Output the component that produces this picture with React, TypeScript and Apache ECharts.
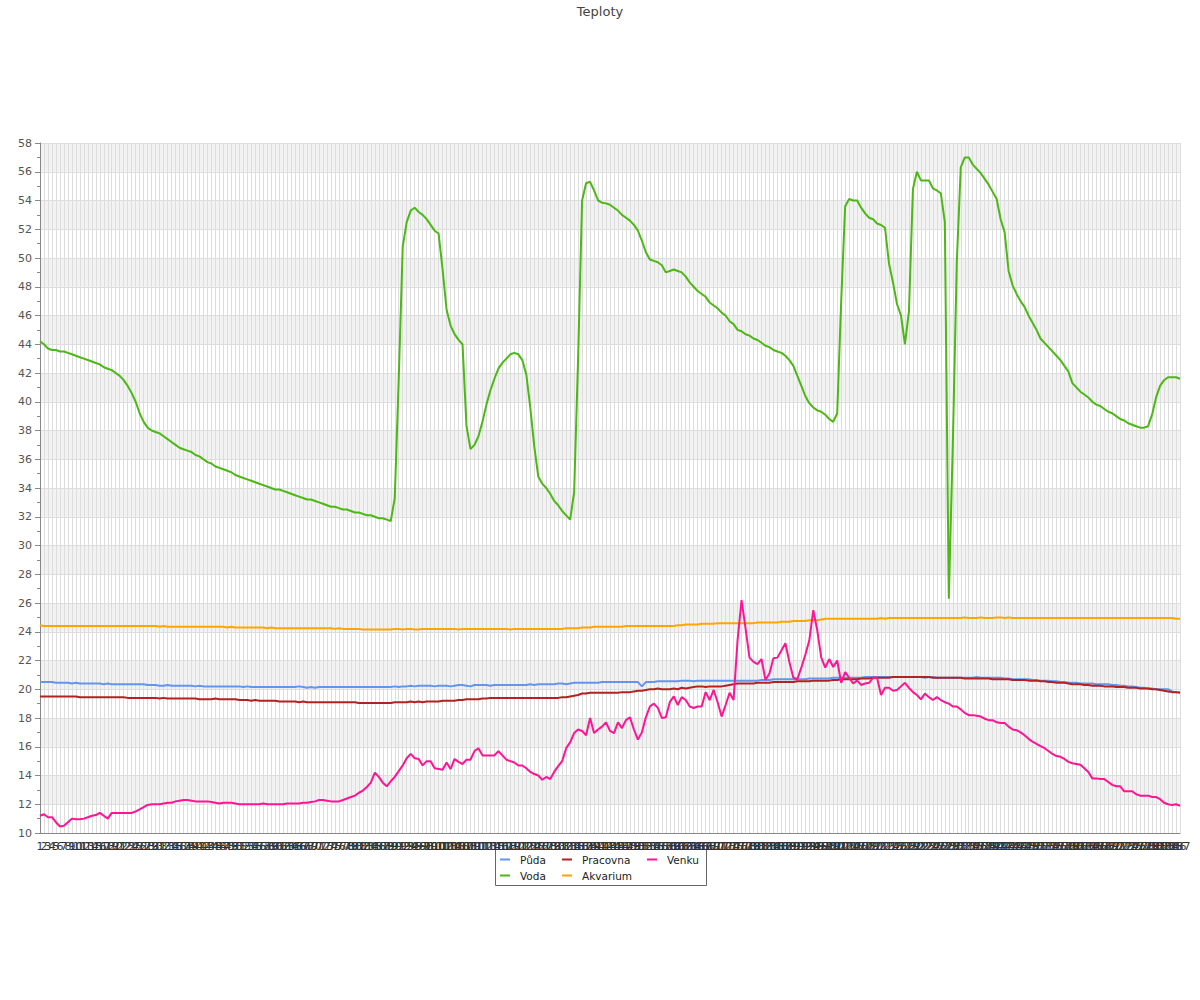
import React, { useEffect, useRef } from "react";
import * as echarts from "echarts";

const categories: string[] = Array.from({ length: 287 }, (_, i) => String(i + 1));

const yTicks = { min: 10, max: 58, interval: 2 };

const puda: number[] = [
  20.5,20.5,20.5,20.5,20.45,20.45,20.45,20.45,20.4,20.45,
  20.4,20.4,20.4,20.4,20.4,20.4,20.35,20.4,20.35,20.35,
  20.35,20.35,20.35,20.35,20.35,20.35,20.35,20.3,20.3,20.3,
  20.25,20.25,20.3,20.25,20.25,20.25,20.25,20.25,20.25,20.2,
  20.25,20.2,20.2,20.2,20.2,20.2,20.2,20.2,20.2,20.2,
  20.2,20.15,20.2,20.15,20.15,20.15,20.15,20.15,20.15,20.15,
  20.15,20.15,20.15,20.15,20.15,20.2,20.15,20.1,20.15,20.1,
  20.15,20.15,20.15,20.15,20.15,20.15,20.15,20.15,20.15,20.15,
  20.15,20.15,20.15,20.15,20.15,20.15,20.15,20.15,20.15,20.2,
  20.15,20.2,20.2,20.25,20.2,20.25,20.25,20.25,20.25,20.2,
  20.25,20.25,20.25,20.2,20.25,20.3,20.3,20.25,20.2,20.3,
  20.3,20.3,20.3,20.25,20.3,20.3,20.3,20.3,20.3,20.3,
  20.3,20.3,20.3,20.35,20.3,20.35,20.35,20.35,20.35,20.35,
  20.4,20.4,20.35,20.4,20.45,20.45,20.45,20.45,20.45,20.45,
  20.45,20.5,20.5,20.5,20.5,20.5,20.5,20.5,20.5,20.5,
  20.5,20.2,20.5,20.5,20.5,20.55,20.55,20.55,20.55,20.55,
  20.55,20.6,20.6,20.6,20.55,20.6,20.6,20.6,20.6,20.6,
  20.6,20.6,20.6,20.6,20.6,20.6,20.6,20.6,20.6,20.6,
  20.6,20.65,20.65,20.65,20.7,20.7,20.7,20.7,20.7,20.7,
  20.7,20.7,20.7,20.75,20.75,20.75,20.75,20.75,20.75,20.8,
  20.8,20.8,20.8,20.8,20.8,20.8,20.8,20.85,20.85,20.85,
  20.85,20.85,20.85,20.85,20.85,20.85,20.85,20.85,20.85,20.85,
  20.85,20.85,20.8,20.85,20.85,20.8,20.8,20.8,20.8,20.8,
  20.8,20.8,20.8,20.8,20.8,20.85,20.8,20.8,20.8,20.8,
  20.8,20.8,20.75,20.75,20.7,20.7,20.7,20.7,20.7,20.65,
  20.65,20.6,20.6,20.6,20.55,20.55,20.5,20.5,20.45,20.45,
  20.45,20.4,20.4,20.4,20.4,20.35,20.35,20.35,20.35,20.3,
  20.3,20.25,20.25,20.2,20.2,20.15,20.1,20.1,20.05,20.05,
  20.0,20.0,20.0,20.0,19.85,19.8,19.8,
];

const voda: number[] = [
  44.2,44.0,43.7,43.6,43.6,43.5,43.5,43.4,43.3,43.2,
  43.1,43.0,42.9,42.8,42.7,42.6,42.4,42.3,42.2,42.0,
  41.8,41.5,41.1,40.6,40.0,39.2,38.6,38.2,38.0,37.9,
  37.8,37.6,37.4,37.2,37.0,36.8,36.7,36.6,36.5,36.3,
  36.2,36.0,35.8,35.7,35.5,35.4,35.3,35.2,35.1,34.9,
  34.8,34.7,34.6,34.5,34.4,34.3,34.2,34.1,34.0,33.9,
  33.9,33.8,33.7,33.6,33.5,33.4,33.3,33.2,33.2,33.1,
  33.0,32.9,32.8,32.7,32.7,32.6,32.5,32.5,32.4,32.3,
  32.3,32.2,32.1,32.1,32.0,31.9,31.9,31.8,31.7,33.3,
  41.6,50.8,52.5,53.3,53.5,53.2,53.0,52.7,52.3,51.9,
  51.7,49.2,46.4,45.3,44.7,44.3,44.0,38.3,36.7,37.0,
  37.6,38.6,39.8,40.8,41.6,42.3,42.7,43.0,43.3,43.4,
  43.3,42.9,41.9,39.6,36.9,34.8,34.3,34.0,33.6,33.1,
  32.8,32.4,32.1,31.8,33.7,43.0,54.0,55.2,55.3,54.7,
  54.0,53.85,53.8,53.7,53.5,53.3,53.0,52.8,52.6,52.3,
  51.9,51.2,50.4,49.9,49.8,49.7,49.5,49.0,49.1,49.2,
  49.1,49.0,48.7,48.3,48.0,47.7,47.5,47.3,46.9,46.7,
  46.5,46.2,46.0,45.6,45.4,45.0,44.9,44.7,44.6,44.4,
  44.3,44.1,43.9,43.8,43.6,43.5,43.4,43.2,42.9,42.5,
  41.8,41.1,40.4,39.9,39.6,39.4,39.3,39.1,38.8,38.6,
  39.2,47.0,53.6,54.1,54.0,54.0,53.5,53.1,52.8,52.7,
  52.4,52.3,52.1,49.6,48.3,46.8,46.0,44.0,46.3,54.8,
  56.0,55.4,55.4,55.4,54.85,54.7,54.5,52.5,26.3,37.0,
  49.7,56.3,57.0,57.0,56.5,56.2,55.9,55.5,55.1,54.6,
  54.1,52.7,51.8,49.1,48.1,47.5,47.0,46.6,46.0,45.5,
  45.0,44.4,44.1,43.8,43.5,43.2,42.9,42.5,42.1,41.3,
  41.0,40.7,40.5,40.3,40.0,39.8,39.7,39.5,39.3,39.2,
  39.0,38.8,38.7,38.5,38.4,38.3,38.2,38.2,38.3,39.1,
  40.3,41.1,41.5,41.7,41.7,41.7,41.6,
];

const pracovna: number[] = [
  19.5,19.5,19.5,19.5,19.5,19.5,19.5,19.5,19.5,19.5,
  19.45,19.45,19.45,19.45,19.45,19.45,19.45,19.45,19.45,19.45,
  19.45,19.45,19.4,19.4,19.4,19.4,19.4,19.4,19.4,19.4,
  19.35,19.4,19.35,19.35,19.35,19.35,19.35,19.35,19.35,19.35,
  19.3,19.3,19.3,19.3,19.35,19.3,19.3,19.3,19.3,19.3,
  19.25,19.25,19.25,19.2,19.25,19.2,19.2,19.2,19.2,19.2,
  19.15,19.15,19.15,19.15,19.15,19.1,19.15,19.1,19.1,19.1,
  19.1,19.1,19.1,19.1,19.1,19.1,19.1,19.1,19.1,19.1,
  19.05,19.05,19.05,19.05,19.05,19.05,19.05,19.05,19.05,19.1,
  19.1,19.1,19.1,19.15,19.1,19.15,19.1,19.15,19.15,19.15,
  19.15,19.2,19.2,19.2,19.2,19.25,19.25,19.3,19.3,19.3,
  19.3,19.35,19.35,19.4,19.4,19.4,19.4,19.4,19.4,19.4,
  19.4,19.4,19.4,19.4,19.4,19.4,19.4,19.4,19.4,19.4,
  19.4,19.45,19.45,19.5,19.55,19.6,19.7,19.7,19.75,19.75,
  19.75,19.75,19.75,19.75,19.75,19.75,19.8,19.8,19.8,19.85,
  19.9,19.9,19.95,20.0,20.0,20.05,20.0,20.0,20.0,20.05,
  20.0,20.1,20.05,20.1,20.15,20.2,20.2,20.15,20.2,20.2,
  20.2,20.2,20.25,20.3,20.35,20.4,20.4,20.4,20.4,20.4,
  20.45,20.45,20.45,20.45,20.5,20.5,20.5,20.5,20.5,20.5,
  20.55,20.55,20.55,20.55,20.6,20.6,20.6,20.6,20.6,20.65,
  20.65,20.7,20.7,20.7,20.7,20.7,20.75,20.75,20.75,20.8,
  20.8,20.8,20.8,20.8,20.85,20.85,20.85,20.85,20.85,20.85,
  20.85,20.85,20.85,20.85,20.8,20.8,20.8,20.8,20.8,20.8,
  20.8,20.8,20.75,20.75,20.75,20.75,20.75,20.75,20.75,20.7,
  20.7,20.7,20.7,20.7,20.65,20.65,20.65,20.65,20.6,20.6,
  20.6,20.55,20.55,20.5,20.5,20.45,20.45,20.45,20.4,20.35,
  20.35,20.35,20.3,20.3,20.25,20.25,20.25,20.2,20.2,20.2,
  20.15,20.15,20.15,20.1,20.1,20.1,20.05,20.05,20.05,20.0,
  20.0,19.95,19.9,19.85,19.8,19.8,19.75,
];

const akvarium: number[] = [
  24.45,24.4,24.4,24.4,24.4,24.4,24.4,24.4,24.4,24.4,
  24.4,24.4,24.4,24.4,24.4,24.4,24.4,24.4,24.4,24.4,
  24.4,24.4,24.4,24.4,24.4,24.4,24.4,24.4,24.4,24.4,
  24.35,24.4,24.35,24.35,24.35,24.35,24.35,24.35,24.35,24.35,
  24.35,24.35,24.35,24.35,24.35,24.35,24.35,24.3,24.35,24.3,
  24.3,24.3,24.3,24.3,24.3,24.3,24.3,24.25,24.3,24.25,
  24.25,24.25,24.25,24.25,24.25,24.25,24.25,24.25,24.25,24.25,
  24.25,24.25,24.25,24.25,24.2,24.25,24.2,24.2,24.2,24.2,
  24.2,24.15,24.15,24.15,24.15,24.15,24.15,24.15,24.15,24.2,
  24.2,24.15,24.2,24.2,24.15,24.15,24.2,24.2,24.2,24.2,
  24.2,24.2,24.2,24.2,24.2,24.15,24.2,24.2,24.2,24.2,
  24.2,24.2,24.2,24.2,24.2,24.2,24.2,24.2,24.15,24.2,
  24.2,24.2,24.2,24.2,24.2,24.2,24.2,24.2,24.2,24.2,
  24.2,24.2,24.25,24.25,24.25,24.25,24.3,24.3,24.3,24.35,
  24.35,24.35,24.35,24.35,24.35,24.35,24.35,24.4,24.4,24.4,
  24.4,24.4,24.4,24.4,24.4,24.4,24.4,24.4,24.4,24.4,
  24.45,24.45,24.5,24.5,24.5,24.5,24.55,24.55,24.55,24.55,
  24.6,24.6,24.6,24.6,24.6,24.6,24.6,24.6,24.6,24.6,
  24.65,24.65,24.65,24.65,24.65,24.65,24.7,24.7,24.7,24.75,
  24.75,24.75,24.75,24.8,24.8,24.8,24.85,24.9,24.9,24.9,
  24.9,24.9,24.9,24.9,24.9,24.9,24.9,24.9,24.9,24.9,
  24.9,24.95,24.9,24.95,24.95,24.95,24.95,24.95,24.95,24.95,
  24.95,24.95,24.95,24.95,24.95,24.95,24.95,24.95,24.95,24.95,
  24.95,24.95,25.0,24.95,24.95,24.95,25.0,24.95,24.95,24.95,
  25.0,25.0,24.95,25.0,24.95,24.95,24.95,24.95,24.95,24.95,
  24.95,24.95,24.95,24.95,24.95,24.95,24.95,24.95,24.95,24.95,
  24.95,24.95,24.95,24.95,24.95,24.95,24.95,24.95,24.95,24.95,
  24.95,24.95,24.95,24.95,24.95,24.95,24.95,24.95,24.95,24.95,
  24.95,24.95,24.95,24.95,24.95,24.9,24.9,
];

const venku: number[] = [
  11.2,11.3,11.1,11.1,10.75,10.45,10.5,10.75,11.0,10.95,
  10.95,11.0,11.1,11.2,11.25,11.4,11.2,11.0,11.4,11.4,
  11.4,11.4,11.4,11.4,11.5,11.65,11.8,11.95,12.0,12.0,
  12.0,12.05,12.1,12.1,12.2,12.25,12.3,12.3,12.25,12.2,
  12.2,12.2,12.2,12.15,12.1,12.05,12.1,12.1,12.1,12.05,
  12.0,12.0,12.0,12.0,12.0,12.0,12.05,12.0,12.0,12.0,
  12.0,12.0,12.05,12.05,12.05,12.05,12.1,12.1,12.15,12.2,
  12.3,12.3,12.25,12.2,12.2,12.2,12.3,12.4,12.5,12.6,
  12.8,12.95,13.2,13.5,14.2,13.9,13.5,13.25,13.6,13.9,
  14.3,14.7,15.2,15.5,15.2,15.15,14.7,15.0,15.0,14.5,
  14.45,14.4,14.9,14.45,15.15,14.95,14.8,15.1,15.1,15.7,
  15.9,15.4,15.4,15.4,15.4,15.7,15.4,15.1,15.0,14.9,
  14.7,14.7,14.5,14.25,14.1,14.0,13.7,13.9,13.75,14.25,
  14.65,15.0,15.9,16.3,16.95,17.2,17.1,16.8,18.0,16.95,
  17.2,17.4,17.7,17.1,16.95,17.7,17.3,17.85,18.05,17.2,
  16.5,17.0,18.05,18.8,19.0,18.7,18.0,18.05,19.1,19.5,
  18.9,19.45,19.25,18.8,18.7,18.8,18.8,19.8,19.25,19.95,
  19.1,18.1,18.9,19.75,19.25,23.4,26.2,24.25,22.2,21.9,
  21.75,22.1,20.65,21.1,22.15,22.2,22.7,23.2,21.9,20.8,
  20.7,21.5,22.4,23.4,25.5,24.1,22.2,21.5,22.1,21.55,
  22.0,20.45,21.2,20.8,20.4,20.6,20.3,20.4,20.45,20.8,
  20.8,19.6,20.1,20.1,19.9,19.95,20.2,20.45,20.1,19.8,
  19.6,19.3,19.7,19.45,19.25,19.45,19.25,19.1,19.0,18.8,
  18.8,18.6,18.35,18.2,18.2,18.15,18.1,17.95,17.85,17.85,
  17.7,17.65,17.65,17.4,17.2,17.15,17.0,16.8,16.55,16.35,
  16.2,16.05,15.9,15.7,15.5,15.35,15.3,15.15,14.95,14.85,
  14.8,14.75,14.5,14.25,13.8,13.8,13.75,13.75,13.55,13.35,
  13.25,13.25,12.9,12.9,12.9,12.7,12.6,12.6,12.6,12.5,
  12.5,12.35,12.1,12.0,11.95,12.0,11.9,
];

const seriesNames = ["Půda", "Voda", "Pracovna", "Akvarium", "Venku"];
const seriesColors = ["#6495ed", "#4cb814", "#b22222", "#ffa500", "#ff1493"];
const seriesData = [puda, voda, pracovna, akvarium, venku];

const FONT = "DejaVu Sans";

export default function App() {
  const ref = useRef<HTMLDivElement>(null);
  useEffect(() => {
    if (!ref.current) return;
    const chart = echarts.init(ref.current, null, { renderer: "svg" });

    const legendPos = [
      { left: 500, top: 854 },
      { left: 500, top: 870 },
      { left: 562, top: 854 },
      { left: 562, top: 870 },
      { left: 647, top: 854 },
    ];

    chart.setOption({
      animation: false,
      backgroundColor: "#ffffff",
      textStyle: { fontFamily: FONT },
      title: {
        text: "Teploty",
        left: "center",
        top: 0,
        textStyle: { fontFamily: FONT, fontSize: 13, fontWeight: "normal", color: "#444" },
      },
      legend: seriesNames.map((name, i) => ({
        data: [name],
        orient: "horizontal",
        left: legendPos[i].left,
        top: legendPos[i].top,
        padding: 0,
        itemWidth: 10,
        itemHeight: 2,
        icon: "rect",
        textStyle: { fontFamily: FONT, fontSize: 10.5, color: "#222", padding: [0, 0, 0, 5] },
      })),
      graphic: [
        {
          type: "rect",
          shape: { x: 495.5, y: 849.5, width: 211, height: 36 },
          style: { fill: "none", stroke: "#666", lineWidth: 1 },
          silent: true,
        },
      ],
      grid: { left: 40, right: 20, top: 143, bottom: 167, containLabel: false },
      xAxis: {
        type: "category",
        data: categories,
        boundaryGap: false,
        axisLine: { lineStyle: { color: "#888" } },
        axisTick: { show: false },
        axisLabel: { interval: 0, fontFamily: FONT, fontSize: 11, color: "#333", margin: 8 },
        splitLine: { show: true, interval: 0, lineStyle: { color: "#dddddd", width: 1 } },
      },
      yAxis: {
        type: "value",
        min: yTicks.min,
        max: yTicks.max,
        interval: yTicks.interval,
        axisLine: { show: true, lineStyle: { color: "#888" } },
        axisTick: { show: true, length: 5, lineStyle: { color: "#888" } },
        minorTick: { show: true, splitNumber: 2, length: 3, lineStyle: { color: "#888" } },
        axisLabel: { fontFamily: FONT, fontSize: 11, color: "#555", margin: 8 },
        splitLine: { show: true, lineStyle: { color: "#dddddd" } },
        splitArea: { show: true, areaStyle: { color: ["rgba(255,255,255,0)", "#f2f2f2"] } },
      },
      series: seriesNames.map((name, i) => ({
        name,
        type: "line",
        data: seriesData[i],
        showSymbol: false,
        symbol: "none",
        color: seriesColors[i],
        lineStyle: { width: 2, color: seriesColors[i] },
      })),
    });
    return () => chart.dispose();
  }, []);
  return (
    <div
      ref={ref}
      style={{ position: "fixed", left: 0, top: 0, width: 1200, height: 1000, background: "#fff" }}
    />
  );
}
